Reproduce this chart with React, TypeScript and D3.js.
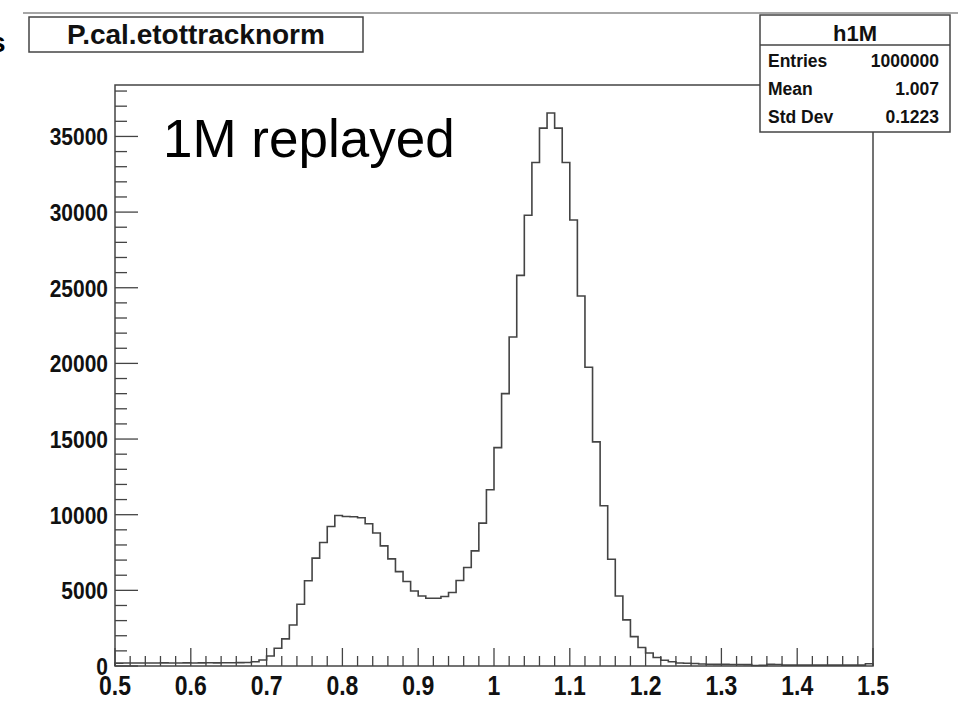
import React, { useEffect, useRef } from 'react';
import * as d3 from 'd3';

// histogram h1M : P.cal.etottracknorm, 100 bins on [0.5, 1.5]
const binLow = 0.5;
const binHigh = 1.5;
const counts = [
  190, 195, 200, 195, 200, 200, 205, 200, 200, 205,
  200, 205, 210, 205, 210, 215, 220, 230, 280, 400,
  660, 1170, 1790, 2710, 4080, 5630, 7130, 8160, 9220, 9950,
  9880, 9860, 9800, 9400, 8790, 7940, 7080, 6240, 5580, 4960,
  4630, 4480, 4480, 4590, 4860, 5650, 6510, 7610, 9440, 11650,
  14430, 18000, 21740, 25820, 29790, 33280, 35550, 36550, 35550, 33280,
  29480, 24450, 19750, 14810, 10590, 7060, 4630, 3050, 1940, 1220,
  860, 560, 380, 280, 200, 180, 170, 130, 120, 110,
  110, 100, 100, 90, 30, 40, 110, 100, 60, 60,
  60, 60, 60, 60, 60, 60, 60, 60, 60, 150,
];
const xTicks = [0.5, 0.6, 0.7, 0.8, 0.9, 1, 1.1, 1.2, 1.3, 1.4, 1.5];
const yTicks = [0, 5000, 10000, 15000, 20000, 25000, 30000, 35000];
const yMax = 38400;

const histTitle = 'P.cal.etottracknorm';
const statsName = 'h1M';
const statsLabels = ['Entries', 'Mean', 'Std Dev'];
const statsValues = ['1000000', '1.007', '0.1223'];
const note = '1M replayed';

const W = 958;
const H = 707;
const frame = { left: 115, right: 873, top: 85, bottom: 666 };

const App = () => {
  const ref = useRef<SVGSVGElement | null>(null);

  useEffect(() => {
    if (!ref.current) return;
    const svg = d3.select(ref.current);
    svg.selectAll('*').remove();

    const x = d3.scaleLinear().domain([binLow, binHigh]).range([frame.left, frame.right]);
    const y = d3.scaleLinear().domain([0, yMax]).range([frame.bottom, frame.top]);
    const binW = (binHigh - binLow) / counts.length;
    const ink = '#444';

    // thin line across the top of the canvas
    svg.append('line')
      .attr('x1', 23).attr('x2', W).attr('y1', 13).attr('y2', 13)
      .attr('stroke', '#888').attr('stroke-width', 1.5);

    // cut-off glyph at the left edge
    svg.append('text')
      .attr('x', -10).attr('y', 52)
      .attr('font-size', 28).attr('font-weight', 700)
      .attr('font-family', 'Liberation Sans, Arial, sans-serif')
      .text('s');

    // frame
    svg.append('rect')
      .attr('x', frame.left).attr('y', frame.top)
      .attr('width', frame.right - frame.left).attr('height', frame.bottom - frame.top)
      .attr('fill', 'none').attr('stroke', ink).attr('stroke-width', 1.5);

    // histogram outline
    const pts: [number, number][] = [[binLow, 0]];
    counts.forEach((c, i) => {
      pts.push([binLow + i * binW, c]);
      pts.push([binLow + (i + 1) * binW, c]);
    });
    pts.push([binHigh, 0]);
    svg.append('path')
      .attr('d', d3.line<[number, number]>().x(d => x(d[0])).y(d => y(d[1]))(pts))
      .attr('fill', 'none').attr('stroke', ink).attr('stroke-width', 1.6);

    // x ticks: major every 0.1, 4 minor in between
    const xMinor = d3.range(0, 51).map(i => binLow + i * 0.02);
    svg.append('g').selectAll('line')
      .data(xMinor)
      .join('line')
      .attr('x1', d => x(d)).attr('x2', d => x(d))
      .attr('y1', frame.bottom)
      .attr('y2', (d, i) => frame.bottom - (i % 5 === 0 ? 18 : 10))
      .attr('stroke', ink).attr('stroke-width', 1.3);

    // y ticks: major every 5000, 4 minor in between
    const yMinor = d3.range(0, 39).map(i => i * 1000);
    svg.append('g').selectAll('line')
      .data(yMinor)
      .join('line')
      .attr('y1', d => y(d)).attr('y2', d => y(d))
      .attr('x1', frame.left)
      .attr('x2', (d, i) => frame.left + (i % 5 === 0 ? 23 : 12))
      .attr('stroke', ink).attr('stroke-width', 1.3);

    const labelFont = 'Liberation Sans, Arial, sans-serif';

    svg.append('g').selectAll('text')
      .data(xTicks)
      .join('text')
      .attr('transform', d => `translate(${x(d)},695) scale(1,1.2)`)
      .attr('text-anchor', 'middle')
      .attr('font-family', labelFont).attr('font-weight', 700).attr('font-size', 23)
      .attr('fill', '#111')
      .text(d => d3.format('~g')(d));

    svg.append('g').selectAll('text')
      .data(yTicks)
      .join('text')
      .attr('transform', d => `translate(108,${y(d) + 9}) scale(1,1.1)`)
      .attr('text-anchor', 'end')
      .attr('font-family', labelFont).attr('font-weight', 700).attr('font-size', 21)
      .attr('fill', '#111')
      .text(d => String(d));

    // title box
    svg.append('rect')
      .attr('x', 29).attr('y', 17).attr('width', 334).attr('height', 35)
      .attr('fill', '#fff').attr('stroke', ink).attr('stroke-width', 1.5);
    svg.append('text')
      .attr('x', 196).attr('y', 44)
      .attr('text-anchor', 'middle')
      .attr('font-family', labelFont).attr('font-weight', 700).attr('font-size', 28)
      .attr('fill', '#111')
      .text(histTitle);

    // stats box
    const sb = { x: 760, y: 15, w: 190, h: 117 };
    svg.append('rect')
      .attr('x', sb.x).attr('y', sb.y).attr('width', sb.w).attr('height', sb.h)
      .attr('fill', '#fff').attr('stroke', ink).attr('stroke-width', 1.5);
    svg.append('line')
      .attr('x1', sb.x).attr('x2', sb.x + sb.w).attr('y1', 45).attr('y2', 45)
      .attr('stroke', ink).attr('stroke-width', 1.5);
    svg.append('text')
      .attr('x', sb.x + sb.w / 2).attr('y', 41)
      .attr('text-anchor', 'middle')
      .attr('font-family', labelFont).attr('font-weight', 700).attr('font-size', 22)
      .attr('fill', '#111')
      .text(statsName);
    const rowY = [67, 95, 123];
    statsLabels.forEach((lab, i) => {
      svg.append('text')
        .attr('x', 768).attr('y', rowY[i])
        .attr('font-family', labelFont).attr('font-weight', 700).attr('font-size', 17.5)
        .attr('fill', '#111')
        .text(lab);
      svg.append('text')
        .attr('x', 939).attr('y', rowY[i])
        .attr('text-anchor', 'end')
        .attr('font-family', labelFont).attr('font-weight', 700).attr('font-size', 17.5)
        .attr('fill', '#111')
        .text(statsValues[i]);
    });

    // annotation
    svg.append('text')
      .attr('x', 163).attr('y', 157)
      .attr('font-family', labelFont).attr('font-size', 53)
      .attr('fill', '#000')
      .text(note);
  }, []);

  return (
    <svg
      ref={ref}
      width={W}
      height={H}
      style={{ position: 'absolute', left: 0, top: 0, background: '#fff' }}
    />
  );
};

export default App;
